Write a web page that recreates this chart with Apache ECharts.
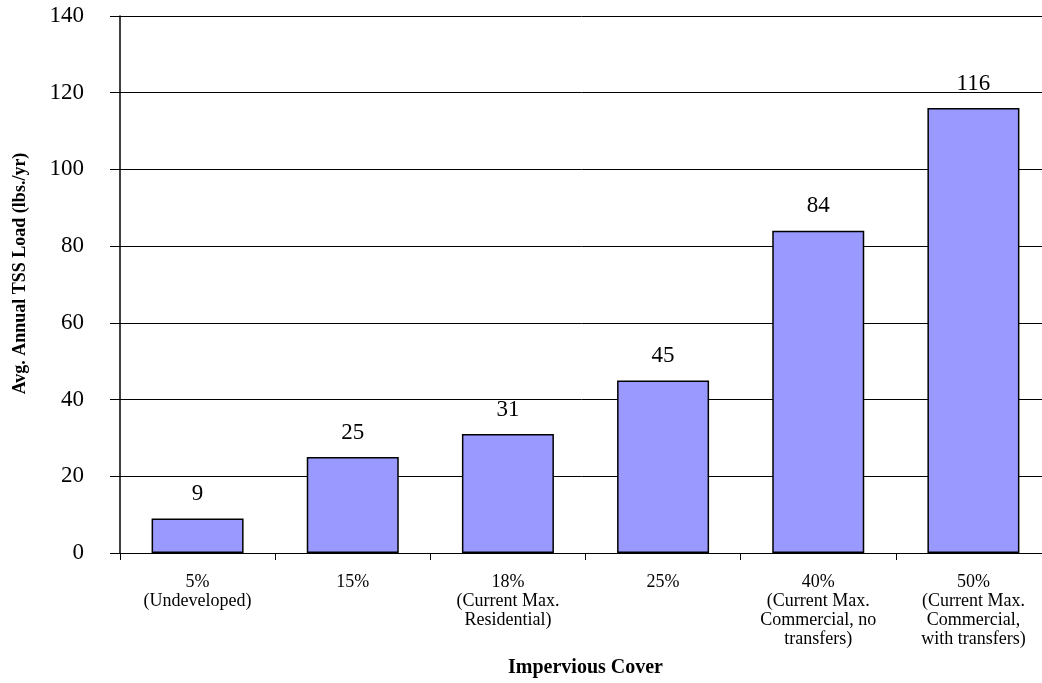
<!DOCTYPE html>
<html>
<head>
<meta charset="utf-8">
<script src="https://cdn.jsdelivr.net/npm/echarts@6/dist/echarts.min.js"></script>
<style>
  html, body { margin: 0; padding: 0; background: #fff; }
  #chart { width: 1042px; height: 683px; }
</style>
</head>
<body>
<div id="chart"></div>
<script>
// Impervious cover scenarios and their average annual TSS load
const categories = [
  '5%\n(Undeveloped)',
  '15%',
  '18%\n(Current Max.\nResidential)',
  '25%',
  '40%\n(Current Max.\nCommercial, no\ntransfers)',
  '50%\n(Current Max.\nCommercial,\nwith transfers)'
];
const tssLoad = [9, 25, 31, 45, 84, 116];
const yTicks = { min: 0, max: 140, interval: 20 };

const serif = '"Liberation Serif", "Times New Roman", serif';
const chart = echarts.init(document.getElementById('chart'));

chart.setOption({
  animation: false,
  backgroundColor: '#ffffff',
  grid: {
    left: 120, top: 16, width: 931, height: 537,
    containLabel: false, outerBoundsMode: 'none'
  },
  xAxis: {
    type: 'category',
    data: categories,
    name: 'Impervious Cover',
    nameLocation: 'middle',
    nameGap: 105,
    nameTextStyle: { fontFamily: serif, fontSize: 20, fontWeight: 'bold', color: '#000' },
    axisLine: { lineStyle: { color: '#000', width: 1 } },
    axisTick: { show: true, length: 7, alignWithLabel: false, lineStyle: { color: '#000' } },
    axisLabel: {
      interval: 0,
      margin: 20,
      fontFamily: serif,
      fontSize: 18,
      lineHeight: 19,
      color: '#000',
      align: 'center'
    }
  },
  yAxis: {
    type: 'value',
    min: yTicks.min,
    max: yTicks.max,
    interval: yTicks.interval,
    name: 'Avg. Annual TSS Load (lbs./yr)',
    nameLocation: 'middle',
    nameGap: 91,
    nameTextStyle: {
      fontFamily: serif, fontSize: 18, fontWeight: 'bold', color: '#000',
      padding: [0, 0, 0, 22]
    },
    axisLine: { show: true, lineStyle: { color: '#000', width: 1.5 } },
    axisTick: { show: true, length: 10, lineStyle: { color: '#000' } },
    axisLabel: { margin: 36, fontFamily: serif, fontSize: 23, color: '#000' },
    splitLine: { show: true, lineStyle: { color: '#000', width: 1 } }
  },
  series: [{
    type: 'bar',
    data: tssLoad,
    barWidth: 92,
    itemStyle: { color: '#9999ff', borderColor: '#000', borderWidth: 1.5 },
    label: {
      show: true,
      position: 'top',
      distance: 13,
      fontFamily: serif,
      fontSize: 23,
      color: '#000'
    }
  }]
});
</script>
</body>
</html>
